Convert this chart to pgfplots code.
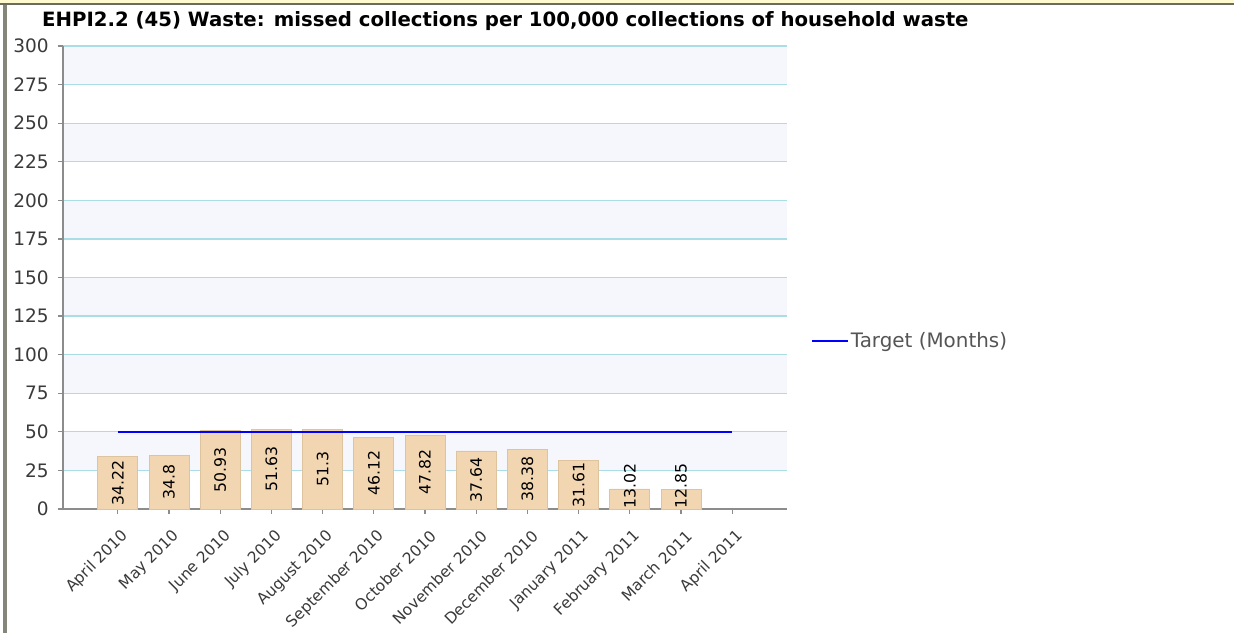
\documentclass[border=0pt]{standalone}
\usepackage{fontspec}
\setmainfont{DejaVu Sans}
\usepackage{pgfplots}
\usepackage{pgfplotstable}
\pgfplotsset{compat=1.18}
\definecolor{band}{HTML}{F6F7FD}
\definecolor{gridc}{HTML}{ABDDE6}
\definecolor{axisc}{HTML}{8C8C8C}
\definecolor{barF}{HTML}{F2D6B2}
\definecolor{barE}{HTML}{DEC39F}
\definecolor{ticktext}{HTML}{3A3A3A}
\definecolor{legtext}{HTML}{555555}
\definecolor{frameY}{HTML}{FFFACD}
\definecolor{frameD}{HTML}{6B6B60}
\definecolor{frameL}{HTML}{85857A}
\pgfplotstableread{
i v lab
0 34.22 34.22
1 34.8 34.8
2 50.93 50.93
3 51.63 51.63
4 51.3 51.3
5 46.12 46.12
6 47.82 47.82
7 37.64 37.64
8 38.38 38.38
9 31.61 31.61
10 13.02 13.02
11 12.85 12.85
}\data
\begin{document}
\begin{tikzpicture}
\path[use as bounding box, fill=white] (0pt,0pt) rectangle (1234pt,633pt);
\fill[frameY] (0pt,629.5pt) rectangle (1234pt,633pt);
\fill[frameD] (0pt,628pt) rectangle (1234pt,629.8pt);
\fill[frameL] (2.5pt,0pt) rectangle (7pt,628pt);
\foreach \k in {1,3,5,7,9,11}{
  \pgfmathsetmacro{\ya}{124+\k*38.5833}
  \pgfmathsetmacro{\yb}{124+(\k+1)*38.5833}
  \fill[band] (63pt,\ya pt) rectangle (787pt,\yb pt);
}
\node[anchor=west, font=\bfseries\fontsize{19.7}{22}\selectfont, inner sep=0pt] at (42pt,612pt) {EHPI2.2 (45) Waste: missed collections per 100,000 collections of household waste};
\begin{axis}[
  at={(63pt,124pt)}, anchor=south west,
  scale only axis, width=724pt, height=463pt,
  xmin=-1.07, xmax=13.07, ymin=0, ymax=300,
  ytick={0,25,...,300},
  xtick={0,...,12},
  xticklabels={April 2010, May 2010, June 2010, July 2010, August 2010, September 2010, October 2010, November 2010, December 2010, January 2011, February 2011, March 2011, April 2011},
  ymajorgrids, grid style={gridc, line width=1.2pt},
  axis x line*=bottom, axis y line*=left,
  axis line style={axisc, line width=1.6pt},
  tick style={axisc, line width=1.2pt}, major tick length=5pt, tick align=outside,
  /pgf/number format/assume math mode=true,
  yticklabel style={font=\fontsize{18.5}{20}\selectfont, text=ticktext, xshift=-5.7pt},
  xticklabel style={font=\fontsize{15.5}{18}\selectfont, text=ticktext, xshift=10.4pt, yshift=-16.7pt, rotate=45, anchor=east},
  legend style={at={(axis description cs:1.033,0.363)}, anchor=west, draw=none, fill=none, inner sep=0pt, font=\fontsize{19.9}{22}\selectfont, text=legtext, legend cell align=left},
  legend image code/.code={\draw[#1] (0pt,0pt) -- (32pt,0pt); \path (0pt,0pt) -- (36pt,0pt);},
]
\addplot[ybar, bar width=0.78, draw=barE, line width=0.8pt, fill=barF, forget plot] table[x=i, y=v] {\data};
\addplot[draw=none, mark=none, forget plot, nodes near coords, point meta=explicit symbolic,
  nodes near coords style={rotate=90, anchor=center, font=\fontsize{15.7}{18}\selectfont, text=black}]
  table[x=i, y expr={max(\thisrow{v}/2,14.6)}, meta=lab] {\data};
\addplot[color=blue, line width=1.8pt] coordinates {(0,50) (12,50)};
\addlegendentry{Target (Months)}
\end{axis}
\end{tikzpicture}
\end{document}
